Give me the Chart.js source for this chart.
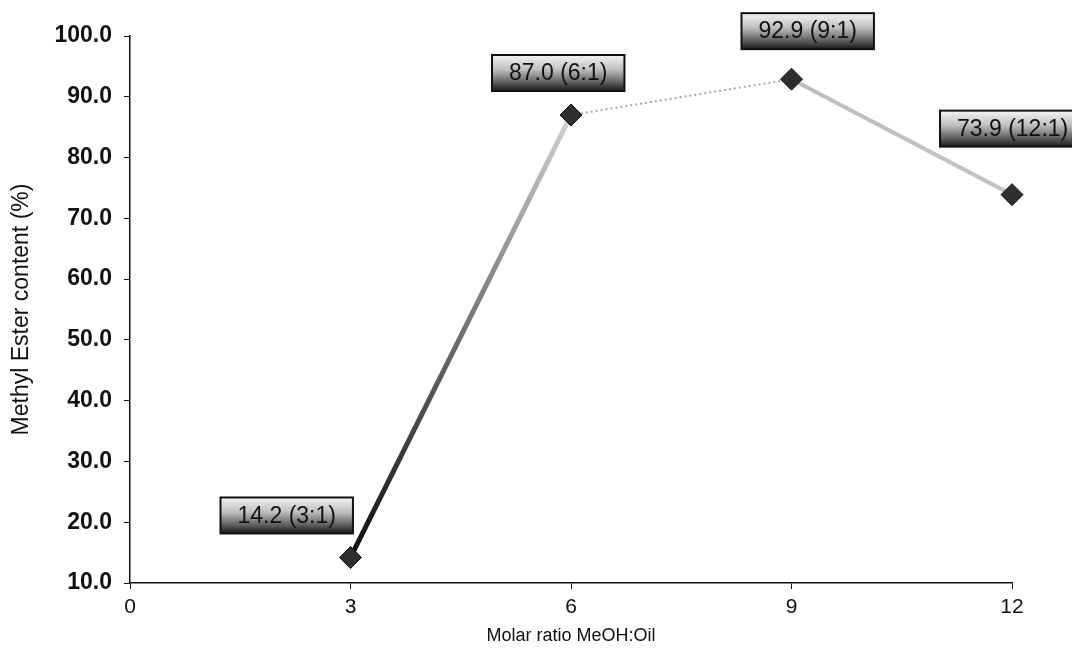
<!DOCTYPE html>
<html>
<head>
<meta charset="utf-8">
<script src="https://cdn.jsdelivr.net/npm/chart.js@4.4.1/dist/chart.umd.min.js"></script>
<style>
  html, body { margin: 0; padding: 0; background: #ffffff; }
  #wrap { width: 1072px; height: 658px; position: relative; overflow: hidden; }
</style>
</head>
<body>
<div id="wrap"><canvas id="chart" width="1072" height="658"></canvas></div>
<script>
// Methyl ester yield against methanol:oil molar ratio
const molarRatios = [3, 6, 9, 12];
const esterContent = [14.2, 87.0, 92.9, 73.9];
const ratioNames = ['3:1', '6:1', '9:1', '12:1'];
const xAxisRange = [0, 12];
const xTickStep = 3;
const yAxisRange = [10, 100];
const yTickStep = 10;

// Line look for each segment between consecutive points
const segmentLooks = [
  { from: '#0c0c0c', to: '#d2d2d2', width: 5, dash: [] },
  { from: '#a8a8a8', to: '#a8a8a8', width: 2, dash: [2, 3] },
  { from: '#bdbdbd', to: '#c4c4c4', width: 4, dash: [] }
];

// Where each value box sits, as an offset of its top-left corner from its point
const labelAnchors = [
  [-130, -60],
  [-79, -60],
  [-50, -66],
  [-72, -84]
];

const FONT = "'Liberation Sans', Arial, Helvetica, sans-serif";

const valueBoxes = {
  id: 'valueBoxes',
  afterDatasetsDraw(chart) {
    const ctx = chart.ctx;
    const meta = chart.getDatasetMeta(0);
    ctx.save();
    ctx.font = '23px ' + FONT;
    ctx.textBaseline = 'middle';
    ctx.textAlign = 'left';
    meta.data.forEach((pt, i) => {
      const text = esterContent[i].toFixed(1) + ' (' + ratioNames[i] + ')';
      const tw = ctx.measureText(text).width;
      const padX = 17, h = 36;
      const w = tw + padX * 2;
      const bx = pt.x + labelAnchors[i][0];
      const by = pt.y + labelAnchors[i][1];
      const g = ctx.createLinearGradient(0, by, 0, by + h);
      g.addColorStop(0, '#f4f4f4');
      g.addColorStop(0.4, '#c0c0c0');
      g.addColorStop(0.72, '#6a6a6a');
      g.addColorStop(1, '#1a1a1a');
      ctx.fillStyle = g;
      ctx.fillRect(bx, by, w, h);
      ctx.lineWidth = 2;
      ctx.strokeStyle = '#111';
      ctx.strokeRect(bx, by, w, h);
      ctx.fillStyle = '#111';
      ctx.fillText(text, bx + padX, by + h / 2 + 1);
    });
    ctx.restore();
  }
};

const segGradient = (c) => {
  const look = segmentLooks[c.p0DataIndex];
  const g = c.chart.ctx.createLinearGradient(c.p0.x, c.p0.y, c.p1.x, c.p1.y);
  g.addColorStop(0, look.from);
  g.addColorStop(1, look.to);
  return g;
};

new Chart(document.getElementById('chart'), {
  type: 'line',
  data: {
    datasets: [{
      data: molarRatios.map((x, i) => ({ x: x, y: esterContent[i] })),
      showLine: true,
      clip: false,
      borderColor: '#888',
      borderWidth: 3,
      tension: 0,
      pointStyle: 'rectRot',
      pointRadius: 11,
      pointHoverRadius: 11,
      pointBackgroundColor: '#2f2f2f',
      pointBorderColor: '#111',
      pointBorderWidth: 1,
      segment: {
        borderColor: segGradient,
        borderWidth: (c) => segmentLooks[c.p0DataIndex].width,
        borderDash: (c) => segmentLooks[c.p0DataIndex].dash
      }
    }]
  },
  options: {
    responsive: false,
    animation: false,
    devicePixelRatio: 1,
    layout: { padding: { left: 0, right: 60, top: 36, bottom: 0 } },
    plugins: { legend: { display: false }, tooltip: { enabled: false } },
    scales: {
      x: {
        type: 'linear',
        min: xAxisRange[0],
        max: xAxisRange[1],
        afterFit: (s) => { s.height = 75; },
        ticks: {
          stepSize: xTickStep,
          color: '#111',
          font: { family: FONT, size: 21 },
          padding: 6
        },
        grid: { display: true, drawOnChartArea: false, drawTicks: true, tickLength: 6, color: '#111' },
        border: { display: true, color: '#111', width: 1.5 },
        title: {
          display: true,
          text: 'Molar ratio MeOH:Oil',
          color: '#111',
          font: { family: FONT, size: 18 },
          padding: { top: 0, bottom: 11 }
        }
      },
      y: {
        min: yAxisRange[0],
        max: yAxisRange[1],
        afterFit: (s) => { s.width = 130; },
        ticks: {
          stepSize: yTickStep,
          color: '#111',
          font: { family: FONT, size: 23, weight: 'bold' },
          padding: 12,
          callback: (v) => Number(v).toFixed(1)
        },
        grid: { display: true, drawOnChartArea: false, drawTicks: true, tickLength: 6, color: '#111' },
        border: { display: true, color: '#111', width: 1.5 },
        title: {
          display: true,
          text: 'Methyl Ester content (%)',
          color: '#111',
          font: { family: FONT, size: 23 },
          padding: { top: 8, bottom: 0 }
        }
      }
    }
  },
  plugins: [valueBoxes]
});
</script>
</body>
</html>
